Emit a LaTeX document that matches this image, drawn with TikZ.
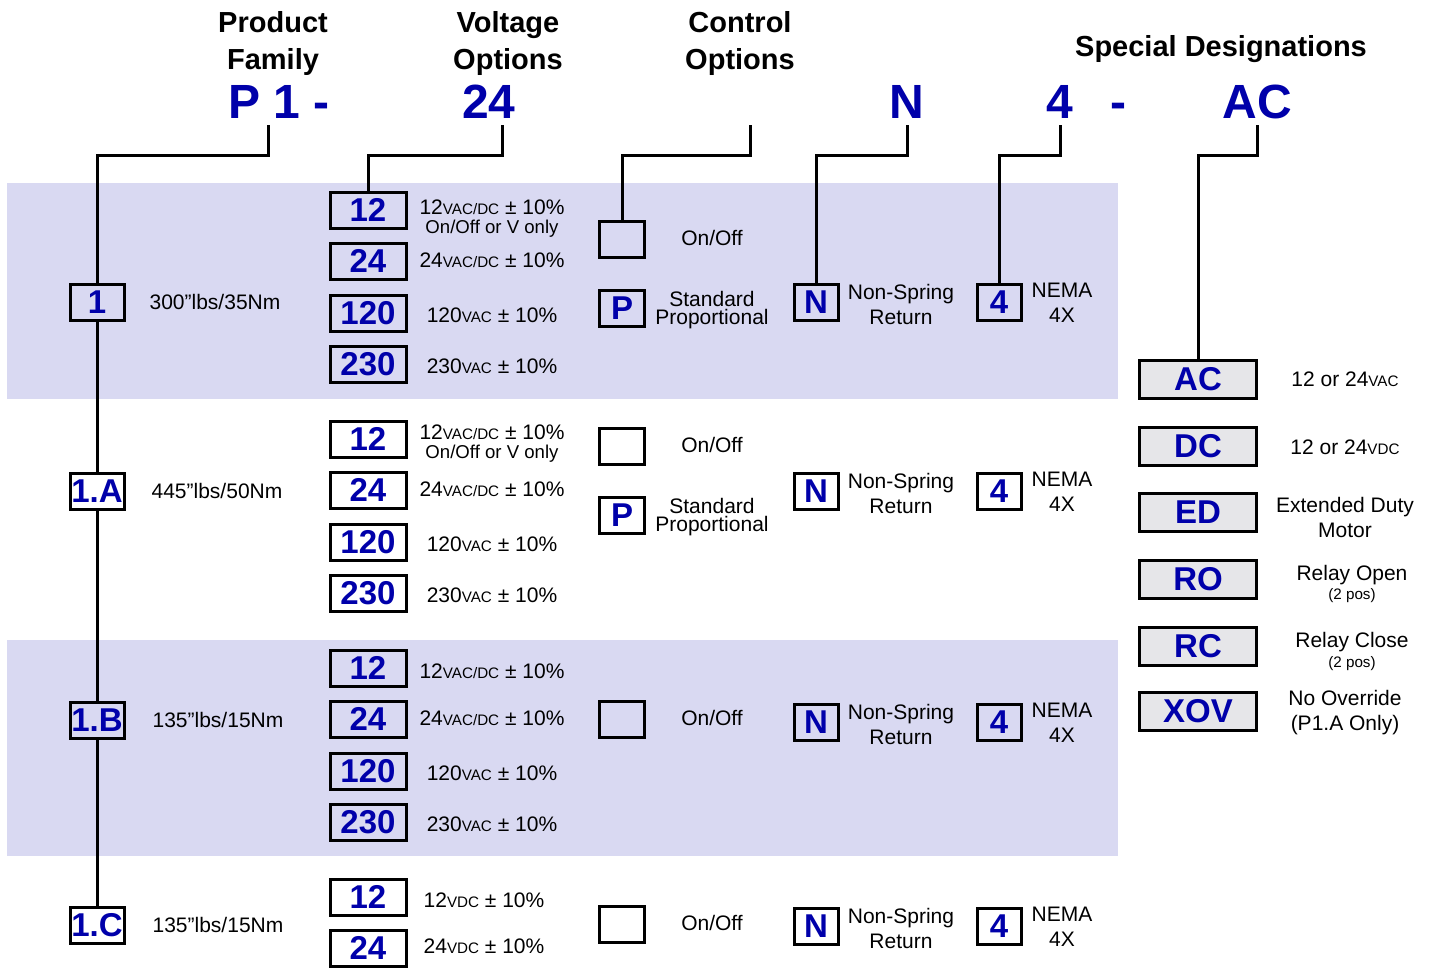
\documentclass[tikz,border=0pt]{standalone}
\usepackage{fontspec}
\setmainfont{Liberation Sans}
\usetikzlibrary{calc}
\definecolor{codeblue}{RGB}{0,0,170}
\definecolor{bandfill}{RGB}{217,217,242}
\definecolor{specfill}{RGB}{230,230,233}
\newcommand{\unitsub}[1]{{\fontsize{7.6}{9}\selectfont #1}}

\begin{document}
\begin{tikzpicture}[x=0.5pt,y=-0.5pt,
	hdr/.style={font=\fontsize{14.5}{18.5}\selectfont\bfseries, align=center},
	code/.style={font=\fontsize{24}{28}\selectfont\bfseries, text=codeblue},
	box/.style={draw, line width=1.5pt, inner sep=0pt, text=codeblue, font=\fontsize{16.5}{20}\selectfont\bfseries, minimum height=18pt},
	fambox/.style={box, minimum width=27pt},
	voltbox/.style={box, minimum width=38pt},
	ctlbox/.style={box, minimum width=22.5pt},
	optbox/.style={box, minimum width=22pt},
	specbox/.style={box, fill=specfill, minimum width=58.5pt, minimum height=19pt},
	txt/.style={font=\fontsize{10.5}{12.5}\selectfont, align=center, inner sep=0pt},
	small/.style={font=\fontsize{9.3}{10}\selectfont, inner sep=0pt},
	conn/.style={line width=1.5pt}]
	\useasboundingbox (0,0) rectangle (1430,969);
	% shaded bands
	\fill[bandfill] (7,183) rectangle (1118,399);
	\fill[bandfill] (7,640) rectangle (1118,856);
	% headings
	\node[hdr] (hfam) at (273,44) {Product\\Family};
	\node[hdr] (hvolt) at (508,44) {Voltage\\Options};
	\node[hdr] (hctl) at (740,44) {Control\\Options};
	\node[hdr] (hspec) at (1221,49) {Special Designations};
	% part number
	\node[code] (cfam) at (279,102) {P 1 -};
	\node[code] (cvolt) at (489,102) {24};
	\node[code] (cnsr) at (907,102) {N};
	\node[code] (cnema) at (1060,102) {4};
	\node[code] (cdash) at (1118,111) {-};
	\node[code] (cspec) at (1257,102) {AC};
	\coordinate (tfam) at (268,125);
	\coordinate (tvolt) at (502,125);
	\coordinate (tctl) at (750,125);
	\coordinate (tnsr) at (907,125);
	\coordinate (tnema) at (1060,125);
	\coordinate (tspec) at (1257,125);
	% product family
	\node[fambox] (fam1) at (97,302) {1};
	\node[fambox] (famA) at (97,491) {1.A};
	\node[fambox] (famB) at (97,720) {1.B};
	\node[fambox] (famC) at (97,925) {1.C};
	\node[txt] (tq1) at (215,302) {300”lbs/35Nm};
	\node[txt] (tqA) at (217,491) {445”lbs/50Nm};
	\node[txt] (tqB) at (218,720) {135”lbs/15Nm};
	\node[txt] (tqC) at (218,925) {135”lbs/15Nm};
	% voltage options
	\foreach \v/\y in {12/210,24/261,120/313,230/364}
		\node[voltbox] (v\v a) at (368,\y) {\v};
	\foreach \v/\y in {12/439,24/490,120/542,230/593}
		\node[voltbox] (v\v b) at (368,\y) {\v};
	\foreach \v/\y in {12/668,24/719,120/771,230/822}
		\node[voltbox] (v\v c) at (368,\y) {\v};
	\foreach \v/\y in {12/897,24/948}
		\node[voltbox] (v\v d) at (368,\y) {\v};
	\node[txt] (vt12a) at (492,207) {12\unitsub{VAC/DC} ± 10\%};
	\node[small] (vo12a) at (492,229) {On/Off or V only};
	\node[txt] (vt24a) at (492,260) {24\unitsub{VAC/DC} ± 10\%};
	\node[txt] (vt120a) at (492,315) {120\unitsub{VAC} ± 10\%};
	\node[txt] (vt230a) at (492,366) {230\unitsub{VAC} ± 10\%};
	\node[txt] (vt12b) at (492,432) {12\unitsub{VAC/DC} ± 10\%};
	\node[small] (vo12b) at (492,454) {On/Off or V only};
	\node[txt] (vt24b) at (492,489) {24\unitsub{VAC/DC} ± 10\%};
	\node[txt] (vt120b) at (492,544) {120\unitsub{VAC} ± 10\%};
	\node[txt] (vt230b) at (492,595) {230\unitsub{VAC} ± 10\%};
	\node[txt] (vt12c) at (492,671) {12\unitsub{VAC/DC} ± 10\%};
	\node[txt] (vt24c) at (492,718) {24\unitsub{VAC/DC} ± 10\%};
	\node[txt] (vt120c) at (492,773) {120\unitsub{VAC} ± 10\%};
	\node[txt] (vt230c) at (492,824) {230\unitsub{VAC} ± 10\%};
	\node[txt] (vt12d) at (484,900) {12\unitsub{VDC} ± 10\%};
	\node[txt] (vt24d) at (484,946) {24\unitsub{VDC} ± 10\%};
	% control options
	\node[ctlbox] (ctla) at (622,239) {};
	\node[ctlbox] (pa) at (622,308) {P};
	\node[ctlbox] (ctlb) at (622,446) {};
	\node[ctlbox] (pb) at (622,515) {P};
	\node[ctlbox] (ctlc) at (622,719) {};
	\node[ctlbox] (ctld) at (622,924) {};
	\foreach \r/\y in {a/238,b/445,c/718,d/923}
		\node[txt] (ct\r) at (712,\y) {On/Off};
	\node[txt, font=\fontsize{10.5}{9}\selectfont] (pt a) at (712,310) {Standard\\Proportional};
	\node[txt, font=\fontsize{10.5}{9}\selectfont] (pt b) at (712,517) {Standard\\Proportional};
	% non-spring return and nema
	\foreach \r/\y in {a/302,b/491,c/722,d/926}{
		\node[optbox] (nsr\r) at (816,\y) {N};
		\node[txt] (nt\r) at (901,\y+2) {Non-Spring\\Return};
		\node[optbox] (nema\r) at (999,\y) {4};
		\node[txt] (et\r) at (1062,\y+1) {NEMA\\4X};
	}
	% special designations
	\node[specbox] (sAC) at (1198,379) {AC};
	\node[specbox] (sDC) at (1198,446) {DC};
	\node[specbox] (sED) at (1198,512) {ED};
	\node[specbox] (sRO) at (1198,579) {RO};
	\node[specbox] (sRC) at (1198,646) {RC};
	\node[specbox] (sXOV) at (1198,711) {XOV};
	\node[txt] (dAC) at (1345,379) {12 or 24\unitsub{VAC}};
	\node[txt] (dDC) at (1345,447) {12 or 24\unitsub{VDC}};
	\node[txt] (dED) at (1345,517) {Extended Duty\\Motor};
	\node[txt] (dRO) at (1352,575) {Relay Open};
	\node[txt, font=\fontsize{7.6}{9}\selectfont] (dRO2) at (1352,596) {(2 pos)};
	\node[txt] (dRC) at (1352,642) {Relay Close};
	\node[txt, font=\fontsize{7.6}{9}\selectfont] (dRC2) at (1352,664) {(2 pos)};
	\node[txt] (dXOV) at (1345,713) {No Override\\(P1.A Only)};
	% connectors
	\draw[conn] (tfam) -- ++(0,30) -| (fam1);
	\draw[conn] (fam1) -- (famA) -- (famB) -- (famC);
	\draw[conn] (tvolt) -- ++(0,30) -| (v12a);
	\draw[conn] (tctl) -- ++(0,30) -| (ctla);
	\draw[conn] (tnsr) -- ++(0,30) -| (nsra);
	\draw[conn] (tnema) -- ++(0,30) -| (nemaa);
	\draw[conn] (tspec) -- ++(0,30) -| (sAC);
\end{tikzpicture}
\end{document}
